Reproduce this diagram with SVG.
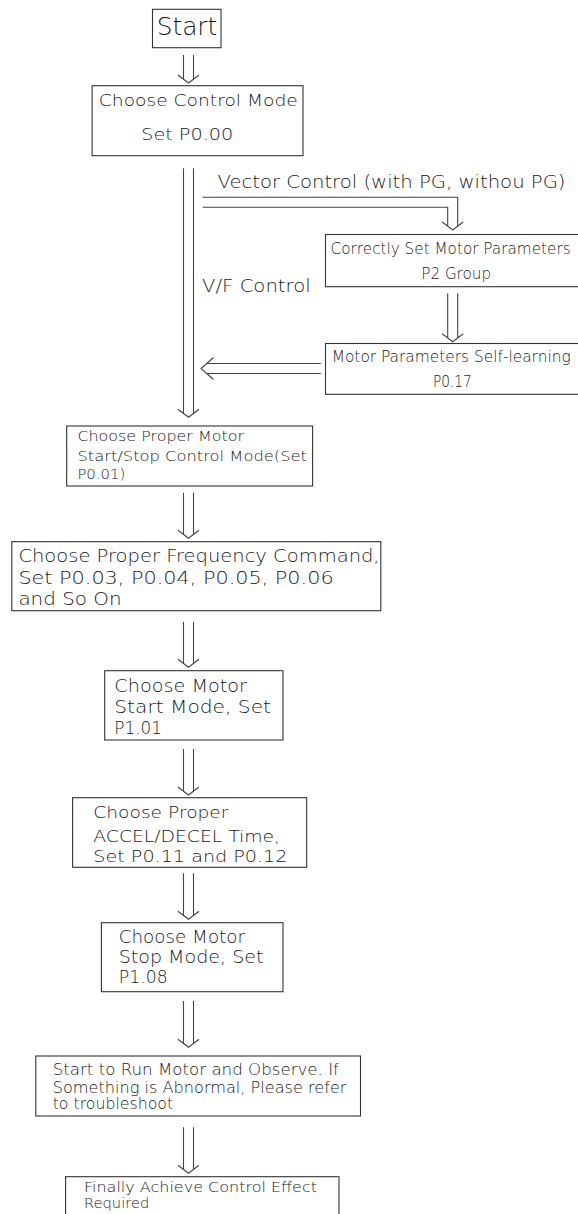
<svg xmlns="http://www.w3.org/2000/svg" width="578" height="1214" viewBox="0 0 578 1214">
<style>
  .box { fill: #fff; stroke: #333; stroke-width: 1.1; }
  .conn { fill: none; stroke: #444; stroke-width: 1.1; stroke-linejoin: miter; }
  text { font-family: "DejaVu Sans", "Liberation Sans", Arial, sans-serif; font-weight: 200; fill: #1a1a1a; }
  .f14 { font-size: 14px; }
  .f15 { font-size: 15px; }
  .f16 { font-size: 16px; }
  .f17 { font-size: 17px; }
  .f18 { font-size: 18px; }
  .f25 { font-size: 24px; }
</style>
<rect width="578" height="1214" fill="#fff"/>

<g id="connectors">
  <path class="conn" d="M183.5 55 V79.2 M193.5 55 V79.2 M178 75 L188.5 83 L199 75"/>
  <path class="conn" d="M183.5 168.3 V413.5 M193.5 168.3 V413.5 M178 409.3 L188.5 417.3 L199 409.3"/>
  <path class="conn" d="M202.7 197.3 H457.7 V226.2 M202.7 207.3 H447.7 V226.2 M442.2 222 L452.7 230 L463.2 222"/>
  <path class="conn" d="M447.7 293.3 V337.9 M457.7 293.3 V337.9 M442.2 333.7 L452.7 341.7 L463.2 333.7"/>
  <path class="conn" d="M320.7 363.5 H206.5 M320.7 373.5 H206.5 M213.5 357.5 L201 368.5 L213.5 379.5"/>
  <path class="conn" d="M183.5 492.7 V534.5 M193.5 492.7 V534.5 M178 530.3 L188.5 538.3 L199 530.3"/>
  <path class="conn" d="M183.5 621.7 V663.5 M193.5 621.7 V663.5 M178 659.3 L188.5 667.3 L199 659.3"/>
  <path class="conn" d="M183.5 749 V791.2 M193.5 749 V791.2 M178 787 L188.5 795 L199 787"/>
  <path class="conn" d="M183.5 873.3 V915.5 M193.5 873.3 V915.5 M178 911.3 L188.5 919.3 L199 911.3"/>
  <path class="conn" d="M183.5 1001 V1043.5 M193.5 1001 V1043.5 M178 1039.3 L188.5 1047.3 L199 1039.3"/>
  <path class="conn" d="M183.5 1127.3 V1169.5 M193.5 1127.3 V1169.5 M178 1165.3 L188.5 1173.3 L199 1165.3"/>
  <text class="f17" x="217.5" y="188" textLength="348" lengthAdjust="spacingAndGlyphs">Vector Control (with PG, withou PG)</text>
  <text class="f17" x="202" y="291.7" textLength="108.7" lengthAdjust="spacingAndGlyphs">V/F Control</text>
</g>

<g id="start">
  <rect class="box" x="152.5" y="9.3" width="68.5" height="38.4"/>
  <text class="f25" x="156.7" y="35" textLength="60.6" lengthAdjust="spacingAndGlyphs">Start</text>
</g>

<g id="choose-control-mode">
  <rect class="box" x="92.1" y="85.7" width="210.9" height="70"/>
  <text class="f15" x="98.8" y="106" textLength="199" lengthAdjust="spacingAndGlyphs">Choose Control Mode</text>
  <text class="f15" x="141.2" y="140" textLength="92" lengthAdjust="spacingAndGlyphs">Set P0.00</text>
</g>

<g id="motor-parameters">
  <rect class="box" x="325.5" y="234.5" width="260" height="52.2"/>
  <text class="f15" x="330.6" y="254" textLength="240" lengthAdjust="spacingAndGlyphs">Correctly Set Motor Parameters</text>
  <text class="f15" x="421.3" y="279" textLength="69.7" lengthAdjust="spacingAndGlyphs">P2 Group</text>
</g>

<g id="self-learning">
  <rect class="box" x="325.5" y="343.5" width="260" height="50.8"/>
  <text class="f15" x="331.7" y="361.7" textLength="239" lengthAdjust="spacingAndGlyphs">Motor Parameters Self-learning</text>
  <text class="f15" x="433" y="386.7" textLength="38.8" lengthAdjust="spacingAndGlyphs">P0.17</text>
</g>

<g id="start-stop-mode">
  <rect class="box" x="66.7" y="426" width="245.9" height="60"/>
  <text class="f14" x="77.4" y="441" textLength="166.6" lengthAdjust="spacingAndGlyphs">Choose Proper Motor</text>
  <text class="f14" x="77.4" y="460.7" textLength="229.6" lengthAdjust="spacingAndGlyphs">Start/Stop Control Mode(Set</text>
  <text class="f14" x="77.4" y="479.3" textLength="47.9" lengthAdjust="spacingAndGlyphs">P0.01)</text>
</g>

<g id="frequency-command">
  <rect class="box" x="11.8" y="541.7" width="369" height="69"/>
  <text class="f17" x="18.4" y="562.3" textLength="361.2" lengthAdjust="spacingAndGlyphs">Choose Proper Frequency Command,</text>
  <text class="f17" x="18.4" y="584" textLength="315.2" lengthAdjust="spacingAndGlyphs">Set P0.03, P0.04, P0.05, P0.06</text>
  <text class="f17" x="18.4" y="605" textLength="103.2" lengthAdjust="spacingAndGlyphs">and So On</text>
</g>

<g id="start-mode">
  <rect class="box" x="104.7" y="670.7" width="178.3" height="69.3"/>
  <text class="f18" x="114.3" y="691.7" textLength="132.7" lengthAdjust="spacingAndGlyphs">Choose Motor</text>
  <text class="f18" x="114.3" y="713.3" textLength="156.7" lengthAdjust="spacingAndGlyphs">Start Mode, Set</text>
  <text class="f18" x="114.3" y="734" textLength="47.7" lengthAdjust="spacingAndGlyphs">P1.01</text>
</g>

<g id="accel-decel">
  <rect class="box" x="72.6" y="797.7" width="234.1" height="69.6"/>
  <text class="f16" x="93.3" y="818.3" textLength="135.2" lengthAdjust="spacingAndGlyphs">Choose Proper</text>
  <text class="f16" x="93.3" y="841.7" textLength="186.7" lengthAdjust="spacingAndGlyphs">ACCEL/DECEL Time,</text>
  <text class="f16" x="93.3" y="861.7" textLength="194.2" lengthAdjust="spacingAndGlyphs">Set P0.11 and P0.12</text>
</g>

<g id="stop-mode">
  <rect class="box" x="101.4" y="922.7" width="181.6" height="69"/>
  <text class="f17" x="118.7" y="943.3" textLength="126.3" lengthAdjust="spacingAndGlyphs">Choose Motor</text>
  <text class="f17" x="118.7" y="963.3" textLength="144.8" lengthAdjust="spacingAndGlyphs">Stop Mode, Set</text>
  <text class="f17" x="118.7" y="983.3" textLength="49" lengthAdjust="spacingAndGlyphs">P1.08</text>
</g>

<g id="run-observe">
  <rect class="box" x="35.8" y="1056" width="324.7" height="60"/>
  <text class="f15" x="52.7" y="1075" textLength="286.3" lengthAdjust="spacingAndGlyphs">Start to Run Motor and Observe. If</text>
  <text class="f15" x="52.7" y="1092.7" textLength="293.8" lengthAdjust="spacingAndGlyphs">Something is Abnormal, Please refer</text>
  <text class="f15" x="52.7" y="1109.3" textLength="120.5" lengthAdjust="spacingAndGlyphs">to troubleshoot</text>
</g>

<g id="finally">
  <rect class="box" x="65.6" y="1176.7" width="273.4" height="50"/>
  <text class="f14" x="84" y="1191.7" textLength="233" lengthAdjust="spacingAndGlyphs">Finally Achieve Control Effect</text>
  <text class="f14" x="84" y="1208.3" textLength="65.3" lengthAdjust="spacingAndGlyphs">Required</text>
</g>
</svg>
